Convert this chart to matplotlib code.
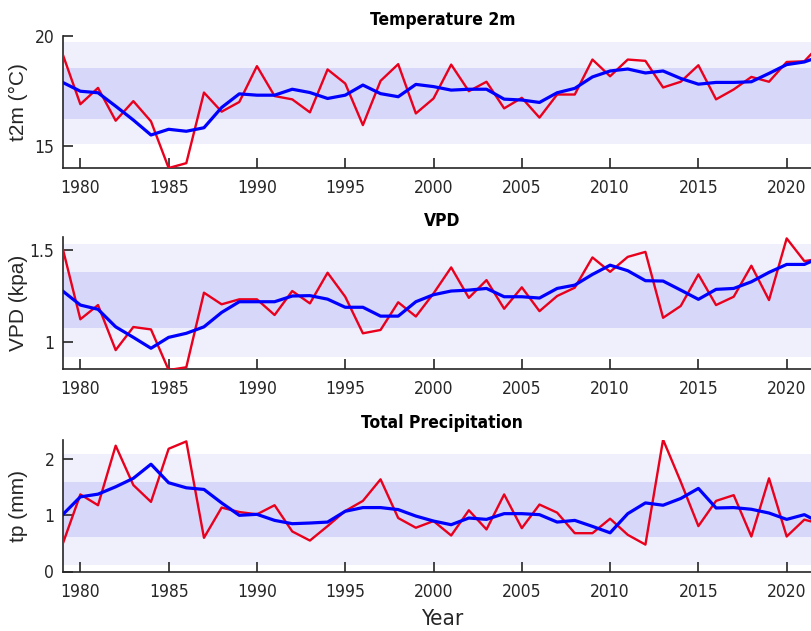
import numpy as np
import matplotlib
matplotlib.use('Agg')
import matplotlib.pyplot as plt

plt.rcParams['font.family'] = ['Liberation Sans Narrow', 'DejaVu Sans']
plt.rcParams['font.stretch'] = 'condensed'

years = list(range(1979, 2023))

t2m = [19.17, 16.90, 17.64, 16.15, 17.04, 16.12, 14.00, 14.22, 17.43, 16.56,
       17.00, 18.63, 17.27, 17.12, 16.53, 18.48, 17.84, 15.95, 17.96, 18.72,
       16.48, 17.16, 18.70, 17.49, 17.92, 16.71, 17.19, 16.29, 17.34, 17.34,
       18.93, 18.17, 18.93, 18.87, 17.66, 17.92, 18.67, 17.12, 17.57, 18.14,
       17.92, 18.82, 18.85, 19.70]
t2m_smooth = [17.89, 17.49, 17.42, 16.81, 16.18, 15.50, 15.76, 15.67, 15.83, 16.75,
              17.37, 17.31, 17.31, 17.58, 17.43, 17.16, 17.31, 17.77, 17.38, 17.24,
              17.80, 17.70, 17.54, 17.58, 17.58, 17.13, 17.09, 16.98, 17.42, 17.62,
              18.14, 18.41, 18.50, 18.32, 18.41, 18.07, 17.81, 17.89, 17.89, 17.92,
              18.30, 18.70, 18.82, 19.10]

vpd = [1.509, 1.125, 1.202, 0.958, 1.083, 1.070, 0.850, 0.865, 1.269, 1.206,
       1.233, 1.233, 1.148, 1.278, 1.211, 1.377, 1.247, 1.049, 1.067, 1.217,
       1.140, 1.265, 1.406, 1.241, 1.337, 1.182, 1.298, 1.169, 1.251, 1.296,
       1.460, 1.382, 1.463, 1.490, 1.133, 1.197, 1.368, 1.202, 1.247, 1.415,
       1.229, 1.563, 1.440, 1.455]
vpd_smooth = [1.278, 1.202, 1.179, 1.084, 1.027, 0.968, 1.027, 1.049, 1.084, 1.162,
              1.220, 1.220, 1.220, 1.251, 1.253, 1.234, 1.190, 1.190, 1.142, 1.142,
              1.220, 1.258, 1.278, 1.283, 1.292, 1.247, 1.247, 1.240, 1.292, 1.310,
              1.368, 1.418, 1.388, 1.334, 1.332, 1.283, 1.233, 1.287, 1.292, 1.328,
              1.379, 1.422, 1.422, 1.465]

tp = [0.49, 1.372, 1.18, 2.24, 1.539, 1.239, 2.185, 2.316, 0.60, 1.138,
      1.059, 1.018, 1.18, 0.713, 0.551, 0.808, 1.077, 1.257, 1.641, 0.952,
      0.779, 0.898, 0.641, 1.09, 0.749, 1.372, 0.772, 1.192, 1.048, 0.682,
      0.682, 0.94, 0.653, 0.479, 2.347, 1.598, 0.808, 1.257, 1.359, 0.623,
      1.659, 0.623, 0.923, 0.84]
tp_smooth = [1.012, 1.329, 1.377, 1.508, 1.659, 1.91, 1.58, 1.49, 1.461, 1.221,
             1.0, 1.018, 0.91, 0.851, 0.863, 0.88, 1.072, 1.138, 1.138, 1.102,
             0.987, 0.898, 0.833, 0.952, 0.928, 1.03, 1.03, 1.012, 0.88, 0.91,
             0.803, 0.689, 1.03, 1.221, 1.18, 1.3, 1.479, 1.131, 1.138, 1.108,
             1.041, 0.928, 1.012, 0.85]

# mean and standard deviation of each series (for the +-1 and +-2 std bands)
t2m_stats = (17.39, 1.16)
vpd_stats = (1.229, 0.153)
tp_stats = (1.104, 0.494)

panels = [
    ('Temperature 2m', 't2m (°C)', t2m, t2m_smooth, t2m_stats, (14, 20), [15, 20], ['15', '20']),
    ('VPD', 'VPD (kpa)', vpd, vpd_smooth, vpd_stats, (0.854, 1.569), [1, 1.5], ['1', '1.5']),
    ('Total Precipitation', 'tp (mm)', tp, tp_smooth, tp_stats, (0, 2.35), [0, 1, 2], ['0', '1', '2']),
]

W, H = 812, 631
fig = plt.figure(figsize=(W / 100, H / 100), dpi=100)

ax_left = 62.7
ax_right = 822
ax_h = 132
tops = [36, 237.3, 439.5]
dark = '#262626'

for i, (title, ylab, raw, smooth, stats, ylim, yt, ytl) in enumerate(panels):
    top = tops[i]
    ax = fig.add_axes([ax_left / W, 1 - (top + ax_h) / H, (ax_right - ax_left) / W, ax_h / H])
    m, s = stats
    ax.axhspan(m - 2 * s, m + 2 * s, color='#f0f0fd', lw=0, zorder=0)
    ax.axhspan(m - s, m + s, color='#d7d7fa', lw=0, zorder=1)
    ax.plot(years, raw, color='#e8001c', lw=1.7, zorder=3)
    ax.plot(years, smooth, color='#0000ff', lw=2.3, zorder=4)
    ax.set_xlim(1979, 2022)
    ax.set_ylim(*ylim)
    ax.set_xticks(range(1980, 2021, 5))
    ax.set_yticks(yt)
    ax.set_yticklabels(ytl)
    ax.set_title(title, fontsize=12.5, fontweight='bold', pad=8, color='black')
    ax.set_ylabel(ylab, fontsize=15, color=dark, family=['Liberation Sans', 'DejaVu Sans'],
                  fontstretch='normal')
    ax.yaxis.set_label_coords(-0.046, 0.5)
    ax.tick_params(axis='x', direction='in', length=7, width=1.2, colors=dark, labelsize=12.5, pad=8)
    ax.tick_params(axis='y', direction='in', length=7, width=1.2, colors=dark, labelsize=12.5, pad=6)
    ax.spines['top'].set_visible(False)
    ax.spines['right'].set_visible(False)
    for sp in ('left', 'bottom'):
        ax.spines[sp].set_color(dark)
        ax.spines[sp].set_linewidth(1.2)
    if i == 2:
        ax.set_xlabel('Year', fontsize=16, color=dark, labelpad=6)

fig.savefig('out.png', dpi=100)
